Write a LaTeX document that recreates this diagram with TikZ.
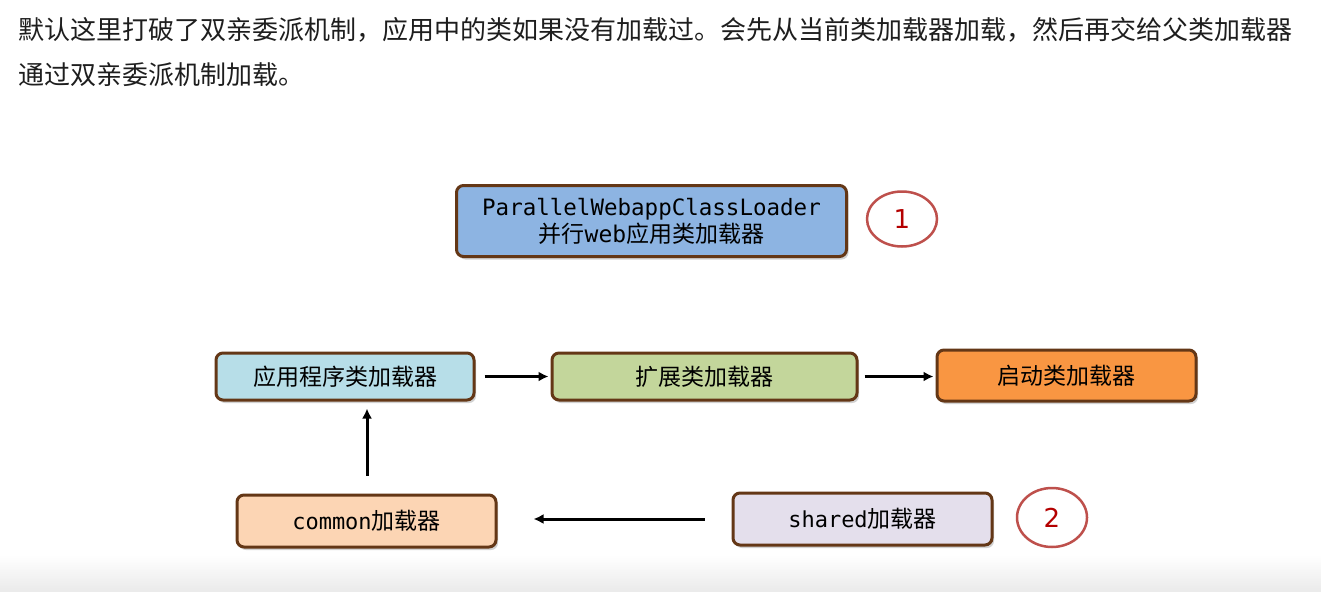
\documentclass[tikz,border=0pt]{standalone}
\usepackage{fontspec}
\newfontfamily\cjk{Noto Sans CJK SC}
\newfontfamily\mono{DejaVu Sans Mono}
\newfontfamily\dsans{DejaVu Sans}
\usetikzlibrary{shadows,arrows.meta,shapes.geometric}
\definecolor{brd}{RGB}{100,55,22}
\definecolor{cred}{RGB}{190,80,76}
\definecolor{numred}{RGB}{180,0,0}
\definecolor{fpar}{RGB}{141,180,226}
\definecolor{fapp}{RGB}{183,222,232}
\definecolor{fext}{RGB}{195,214,155}
\definecolor{fboot}{RGB}{249,150,66}
\definecolor{fcom}{RGB}{252,213,180}
\definecolor{fsh}{RGB}{228,223,236}
\definecolor{txt}{RGB}{30,30,30}
\tikzset{
  box/.style={draw=brd, line width=3pt, rounded corners=7pt, inner sep=0pt,
    align=center, text=black,
    drop shadow={opacity=0.35, shadow xshift=2pt, shadow yshift=-3pt}},
  mark1/.style={ellipse, draw=cred, line width=2.5pt, inner sep=0pt, text=numred,
    font=\dsans\fontsize{26}{26}\selectfont},
  arr/.style={-{Latex[length=10pt,width=10pt]}, line width=3pt, black},
  cn/.style={font=\cjk\fontsize{23}{27}\selectfont},
  top/.style={anchor=west, inner sep=0pt, text=txt, font=\cjk\fontsize{26}{26}\selectfont}
}
\begin{document}
\begin{tikzpicture}[x=1pt,y=-1pt]
\useasboundingbox (0,0) rectangle (1321,591);
\fill[white] (0,0) rectangle (1321,591);
\shade[top color=white, bottom color=black!8] (0,555) rectangle (1321,591);

\node[top] (t1) at (18,30) {默认这里打破了双亲委派机制，应用中的类如果没有加载过。会先从当前类加载器加载，然后再交给父类加载器};
\node[top] (t2) at (18,75) {通过双亲委派机制加载。};

\node[box, fill=fpar, minimum width=390pt, minimum height=71pt] (par) at (651.5,221)
  {{\mono\fontsize{22.5}{27}\selectfont ParallelWebappClassLoader}\\[2pt]
   {\cjk\fontsize{23}{27}\selectfont 并行{\mono web}应用类加载器}};
\node[mark1, minimum width=70pt, minimum height=55pt] (c1) at (902,219) {1};

\node[box, cn, fill=fapp, minimum width=258pt, minimum height=47pt] (app) at (345,376.5) {应用程序类加载器};
\node[box, cn, fill=fext, minimum width=305pt, minimum height=47pt] (ext) at (704.5,376.5) {扩展类加载器};
\node[box, cn, fill=fboot, minimum width=259pt, minimum height=51pt] (boot) at (1066.5,375.5) {启动类加载器};

\node[box, fill=fcom, minimum width=259pt, minimum height=52pt] (com) at (366.5,521)
  {{\mono\fontsize{22}{26}\selectfont common}{\cjk\fontsize{23}{26}\selectfont 加载器}};
\node[box, fill=fsh, minimum width=259pt, minimum height=52pt] (sh) at (862.5,519)
  {{\mono\fontsize{22}{26}\selectfont shared}{\cjk\fontsize{23}{26}\selectfont 加载器}};
\node[mark1, minimum width=70pt, minimum height=59pt] (c2) at (1052,517.5) {2};

\draw[arr, shorten <=9pt, shorten >=2pt] (app.east) -- (app.east -| ext.west);
\draw[arr, shorten <=6pt, shorten >=2pt] (ext.east) -- (ext.east -| boot.west);
\draw[arr, shorten <=18pt, shorten >=7pt] (com.north) ++(0.5,0) coordinate (cu) (cu) -- (cu |- app.south);
\draw[arr, shorten <=27pt, shorten >=36pt] (sh.west) -- (sh.west -| com.east);
\end{tikzpicture}
\end{document}
